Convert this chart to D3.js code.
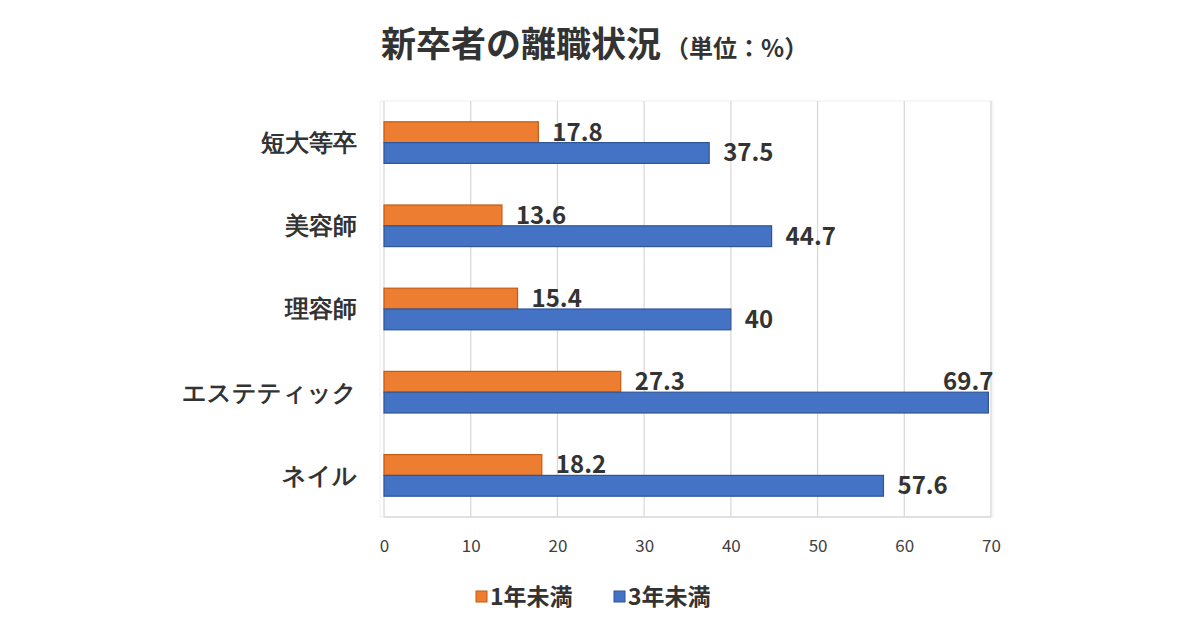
<!DOCTYPE html>
<html><head><meta charset="utf-8">
<script src="https://cdn.jsdelivr.net/npm/d3@7"></script>
<style>
html,body{margin:0;padding:0;background:#fff;}
svg{display:block;font-family:"Noto Sans CJK JP","Noto Sans",sans-serif;}
</style></head>
<body>
<svg id="chart" width="1200" height="630"></svg>
<script>
const categories = ["短大等卒", "美容師", "理容師", "エステティック", "ネイル"];
const seriesNames = ["1年未満", "3年未満"];
const under1Year = [17.8, 13.6, 15.4, 27.3, 18.2];
const under3Years = [37.5, 44.7, 40, 69.7, 57.6];
const xTicks = [0, 10, 20, 30, 40, 50, 60, 70];
const colors = ["#ED7D31", "#4472C4"];
const strokes = ["#C55A11", "#2F5597"];

(function () {
const svg = d3.select("#chart");
const pLeft = 384, pRight = 991, pTop = 101, pBottom = 517;

const x = d3.scaleLinear().domain([0, 70]).range([pLeft, pRight]);
const y = d3.scaleBand().domain(categories).range([pTop, pBottom]).paddingInner(0.5).paddingOuter(0.25);
const y1 = d3.scaleBand().domain(seriesNames).range([0, y.bandwidth()]);

// plot frame
svg.append("rect").attr("x", pLeft - 4).attr("y", pTop).attr("width", pRight - pLeft + 6).attr("height", pBottom - pTop)
  .attr("fill", "none").attr("stroke", "#eef0f4").attr("stroke-width", 1);

// gridlines
svg.append("g").selectAll("line").data(xTicks).join("line")
  .attr("x1", d => x(d)).attr("x2", d => x(d)).attr("y1", pTop).attr("y2", pBottom)
  .attr("stroke", "#d9d9d9").attr("stroke-width", 1.3);
svg.append("line").attr("x1", pLeft).attr("x2", pRight).attr("y1", pBottom).attr("y2", pBottom)
  .attr("stroke", "#d9d9d9").attr("stroke-width", 1.3);

// x axis
const xAxis = d3.axisBottom(x).tickValues(xTicks).tickSize(0).tickPadding(0);
const gx = svg.append("g").attr("transform", `translate(0,${pBottom + 23})`).call(xAxis);
gx.select(".domain").remove();
gx.selectAll("text").attr("font-size", 17).attr("fill", "#404040").attr("font-family", "'Noto Sans CJK JP','Open Sans',sans-serif");

// y axis labels
const yAxis = d3.axisLeft(y).tickSize(0).tickPadding(0);
const gy = svg.append("g").attr("transform", `translate(${357},0)`).call(yAxis);
gy.select(".domain").remove();
gy.selectAll("text").attr("font-size", 24).attr("font-weight", "bold").attr("fill", "#333").attr("dy", "0.35em").attr("y", 0);

// bars
const series = [under1Year, under3Years];
series.forEach((vals, si) => {
  const g = svg.append("g");
  g.selectAll("rect").data(vals).join("rect")
    .attr("x", x(0)).attr("y", (d, i) => y(categories[i]) + y1(seriesNames[si]))
    .attr("width", d => x(d) - x(0)).attr("height", y1.bandwidth())
    .attr("fill", colors[si]).attr("stroke", strokes[si]).attr("stroke-width", 1.2);
  g.selectAll("text").data(vals).join("text")
    .attr("font-size", 24).attr("font-weight", "bold").attr("fill", "#333")
    .each(function(d, i) {
      const t = d3.select(this).text(d);
      const by = y(categories[i]) + y1(seriesNames[si]) + y1.bandwidth() / 2;
      const w = this.getComputedTextLength();
      if (x(d) + 14 + w > pRight + 10) {
        t.attr("x", x(d) + 5).attr("text-anchor", "end").attr("y", by - y1.bandwidth()).attr("dy", "0.35em");
      } else {
        t.attr("x", x(d) + 14).attr("y", by).attr("dy", "0.35em");
      }
    });
});

// title
const title = svg.append("text").attr("x", 381).attr("y", 57).attr("fill", "#333");
title.append("tspan").attr("font-size", 35).attr("font-weight", "bold").text("新卒者の離職状況");
title.append("tspan").attr("font-size", 24).attr("font-weight", "bold").attr("dx", 4).text("（単位：%）");

// legend
const legendX = [476, 614];
seriesNames.forEach((n, i) => {
  svg.append("rect").attr("x", legendX[i]).attr("y", 591).attr("width", 11).attr("height", 11)
    .attr("fill", colors[i]).attr("stroke", strokes[i]).attr("stroke-width", 1);
  svg.append("text").attr("x", legendX[i] + 14).attr("y", 597).attr("dy", "0.35em")
    .attr("font-size", 23).attr("font-weight", "bold").attr("fill", "#333").text(n);
});
})();
</script>
</body></html>
